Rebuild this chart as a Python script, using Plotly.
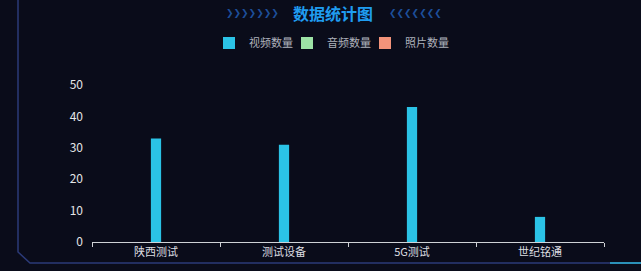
import plotly.graph_objects as go

categories = ["陕西测试", "测试设备", "5G测试", "世纪铭通"]
video_counts = [33, 31, 43, 8]
audio_counts = [0, 0, 0, 0]
photo_counts = [0, 0, 0, 0]
y_ticks = [0, 10, 20, 30, 40, 50]

W, H = 641, 271
L, R, T, B = 92, 37, 85, 29
pw, ph = W - L - R, H - T - B

def px(x):
    return (x - L) / pw

def py(y):
    return (H - B - y) / ph

font_cjk = "Noto Sans CJK SC, Noto Sans, sans-serif"

fig = go.Figure()
fig.add_trace(go.Bar(x=categories, y=video_counts, name="视频数量", legend="legend",
                     marker=dict(color="#2bc3e6", line=dict(width=0)), width=0.08))
fig.add_trace(go.Bar(x=categories, y=audio_counts, name="音频数量", legend="legend2",
                     marker=dict(color="#9de3a6", line=dict(width=0)), width=0.08))
fig.add_trace(go.Bar(x=categories, y=photo_counts, name="照片数量", legend="legend3",
                     marker=dict(color="#f3937a", line=dict(width=0)), width=0.08))

shapes = [
    dict(type="path", xref="paper", yref="paper",
         path=f"M {px(18)} {py(-5)} L {px(18)} {py(252)} L {px(30)} {py(263)} L {px(641)} {py(263)}",
         line=dict(color="#2b3a78", width=1.5)),
    dict(type="line", xref="paper", yref="paper",
         x0=px(610), x1=px(641), y0=py(263), y1=py(263),
         line=dict(color="#2fb3d6", width=1.5)),
]

annotations = [
    dict(text="<b>数据统计图</b>", x=px(333), y=py(13), xref="paper", yref="paper",
         showarrow=False, font=dict(family=font_cjk, size=16, color="#1f9cf0"),
         xanchor="center", yanchor="middle"),
    dict(text="❯❯❯❯❯❯❯", x=px(281), y=py(13), xref="paper", yref="paper",
         showarrow=False, font=dict(family="DejaVu Sans", size=9, color="#1d4f9a"),
         xanchor="right", yanchor="middle"),
    dict(text="❮❮❮❮❮❮❮", x=px(387), y=py(13), xref="paper", yref="paper",
         showarrow=False, font=dict(family="DejaVu Sans", size=9, color="#1d4f9a"),
         xanchor="left", yanchor="middle"),
]

def leg(xpix):
    return dict(orientation="h", x=px(xpix), y=py(43), xanchor="left", yanchor="middle",
                font=dict(family=font_cjk, size=11, color="#aeb2bc"),
                bgcolor="rgba(0,0,0,0)", itemclick=False, itemdoubleclick=False)

fig.update_layout(
    width=W, height=H,
    margin=dict(l=L, r=R, t=T, b=B, pad=0),
    paper_bgcolor="#0a0c1a", plot_bgcolor="#0a0c1a",
    barmode="overlay",
    showlegend=True,
    legend=leg(209), legend2=leg(287), legend3=leg(365),
    xaxis=dict(type="category", showline=True, linecolor="#cfd2d6", linewidth=1,
               ticks="outside", tickson="boundaries", ticklen=4, tickcolor="#cfd2d6",
               showgrid=False, zeroline=False,
               tickfont=dict(family=font_cjk, size=11, color="#dcdde0")),
    yaxis=dict(range=[0, 50], tickvals=y_ticks, showgrid=False, zeroline=False,
               showline=False, ticks="", ticklabelstandoff=8,
               tickfont=dict(family=font_cjk, size=12, color="#e4e5e8")),
    shapes=shapes,
    annotations=annotations,
)

fig.write_html("out.html", config={"displayModeBar": False},
               post_script="document.body.style.margin='0';document.body.style.background='#0a0c1a';document.body.style.overflow='hidden';")
